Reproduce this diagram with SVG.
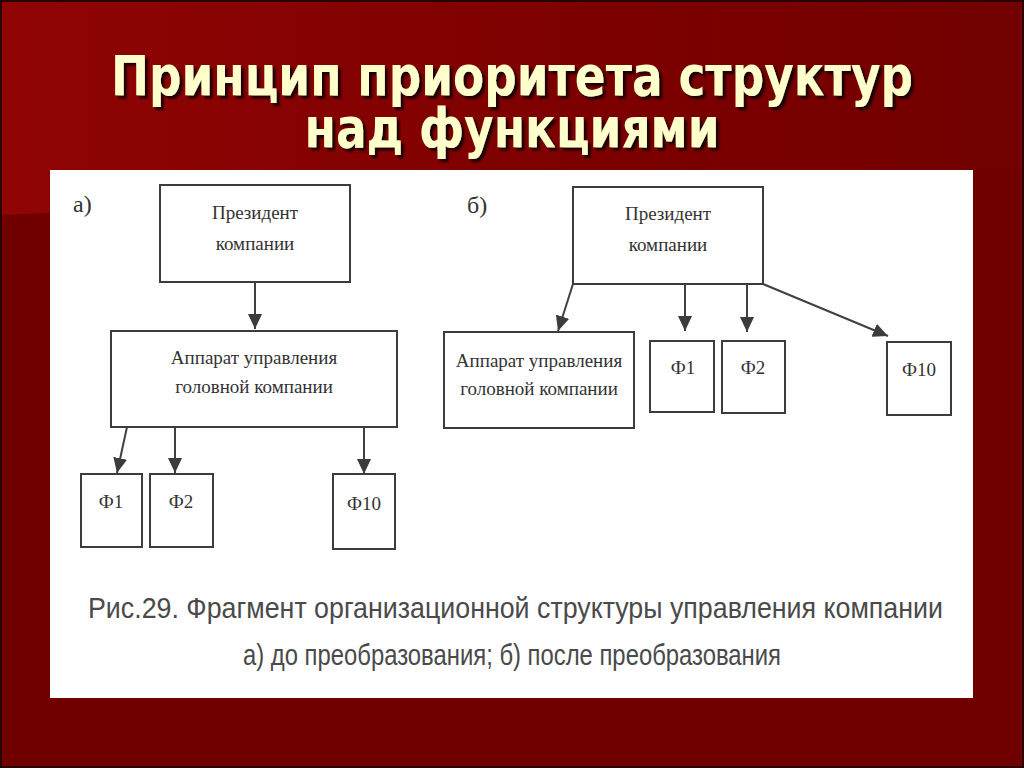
<svg xmlns="http://www.w3.org/2000/svg" width="1024" height="768" viewBox="0 0 1024 768">
<defs>
<linearGradient id="band" x1="0" y1="0" x2="1" y2="0">
<stop offset="0" stop-color="#900404"/>
<stop offset="0.6" stop-color="#7c0000"/>
<stop offset="1" stop-color="#720000"/>
</linearGradient>
<filter id="shadow" x="-5%" y="-20%" width="110%" height="140%">
<feDropShadow dx="3" dy="3" stdDeviation="0.8" flood-color="#1a0000" flood-opacity="1"/>
</filter>
<marker id="arr" markerUnits="userSpaceOnUse" markerWidth="16" markerHeight="14" refX="15" refY="7" orient="auto">
<path d="M0,0 L15,7 L0,14 z" fill="#3c3c3c"/>
</marker>
<style>
.box{fill:#fff;stroke:#3c3c3c;stroke-width:2}
.lbl{font-family:"Liberation Serif","Times New Roman",serif;font-size:19px;fill:#333;text-anchor:middle}
.tag{font-family:"Liberation Serif","Times New Roman",serif;font-size:24px;fill:#333}
.con{stroke:#404040;stroke-width:2;fill:none;marker-end:url(#arr)}
.ttl{font-family:"DejaVu Sans","Liberation Sans",sans-serif;font-weight:bold;font-size:55px;text-anchor:middle;fill:#FFFFCC;filter:url(#shadow)}
.cap{font-family:"Liberation Sans",Arial,sans-serif;font-size:29px;fill:#4a4a4a}
</style>
</defs>
<rect x="0" y="0" width="1024" height="768" fill="#700000"/>
<polygon points="0,0 1024,0 1024,170 0,215" fill="url(#band)"/>
<rect x="1" y="1" width="1022" height="766" fill="none" stroke="#2a0000" stroke-width="2"/>
<g id="title">
<text class="ttl" x="512" y="95" textLength="802" lengthAdjust="spacingAndGlyphs">Принцип приоритета структур</text>
<text class="ttl" x="512" y="147" textLength="415" lengthAdjust="spacingAndGlyphs">над функциями</text>
</g>
<rect id="panel" x="50" y="170" width="923" height="528" fill="#fefefe"/>
<text class="tag" x="73" y="212">а)</text>
<text class="tag" x="467" y="213">б)</text>
<g id="a-president">
<rect class="box" x="160" y="185" width="190" height="97"/>
<text class="lbl" x="255" y="219">Президент</text>
<text class="lbl" x="255" y="250">компании</text>
</g>
<g id="a-apparat">
<rect class="box" x="111" y="331" width="286" height="96"/>
<text class="lbl" x="254" y="364">Аппарат управления</text>
<text class="lbl" x="254" y="393">головной компании</text>
</g>
<g id="a-f1">
<rect class="box" x="81" y="474" width="61" height="73"/>
<text class="lbl" x="111" y="508">Ф1</text>
</g>
<g id="a-f2">
<rect class="box" x="150" y="474" width="63" height="73"/>
<text class="lbl" x="181" y="508">Ф2</text>
</g>
<g id="a-f10">
<rect class="box" x="333" y="474" width="62" height="75"/>
<text class="lbl" x="364" y="510">Ф10</text>
</g>
<g id="b-president">
<rect class="box" x="573" y="187" width="190" height="97"/>
<text class="lbl" x="668" y="220">Президент</text>
<text class="lbl" x="668" y="251">компании</text>
</g>
<g id="b-apparat">
<rect class="box" x="444" y="332" width="190" height="96"/>
<text class="lbl" x="539" y="367">Аппарат управления</text>
<text class="lbl" x="539" y="395">головной компании</text>
</g>
<g id="b-f1">
<rect class="box" x="650" y="341" width="64" height="71"/>
<text class="lbl" x="683" y="374">Ф1</text>
</g>
<g id="b-f2">
<rect class="box" x="722" y="341" width="63" height="72"/>
<text class="lbl" x="753" y="374">Ф2</text>
</g>
<g id="b-f10">
<rect class="box" x="887" y="342" width="64" height="73"/>
<text class="lbl" x="919" y="376">Ф10</text>
</g>
<g id="connectors">
<line class="con" x1="255" y1="282" x2="255" y2="329"/>
<line class="con" x1="127" y1="427" x2="117" y2="473"/>
<line class="con" x1="175" y1="427" x2="175" y2="473"/>
<line class="con" x1="364" y1="427" x2="364" y2="474"/>
<line class="con" x1="573" y1="284" x2="558" y2="331"/>
<line class="con" x1="685" y1="284" x2="685" y2="331"/>
<line class="con" x1="747" y1="284" x2="747" y2="332"/>
<line class="con" x1="763" y1="284" x2="888" y2="336"/>
</g>
<g id="caption">
<text class="cap" x="88" y="618" textLength="855" lengthAdjust="spacingAndGlyphs">Рис.29. Фрагмент организационной структуры управления компании</text>
<text class="cap" x="243" y="665" textLength="538" lengthAdjust="spacingAndGlyphs">а) до преобразования; б) после преобразования</text>
</g>
</svg>
